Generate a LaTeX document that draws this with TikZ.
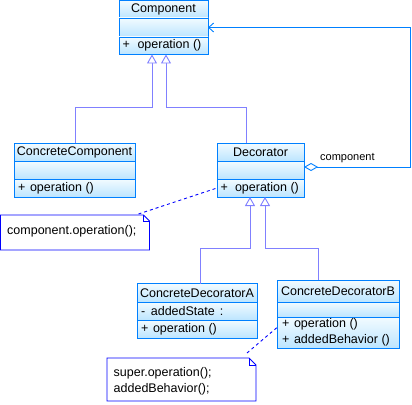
\documentclass[tikz,border=0pt]{standalone}
\usepackage{fontspec}
\setmainfont{Liberation Sans}
\usetikzlibrary{arrows.meta,calc}
\definecolor{clsborder}{RGB}{0,128,255}
\definecolor{clslight}{RGB}{242,251,255}
\definecolor{clsdark}{RGB}{188,229,255}
\definecolor{genline}{RGB}{128,128,255}
\definecolor{notecol}{RGB}{0,0,255}
\tikzset{
  compart/.style={draw=clsborder, line width=0.9pt, top color=clslight, bottom color=clsdark, inner sep=0pt, outer sep=0pt, anchor=north west, rectangle},
  clsname/.style={font=\fontsize{12.5}{15}\selectfont, inner sep=0pt},
  member/.style={font=\fontsize{12.5}{16}\selectfont, inner sep=0pt, anchor=west, align=left, xshift=4pt},
  gen/.style={draw=genline, line width=0.9pt, -{Triangle[open, length=9pt, width=10pt, fill=white]}},
  agg/.style={draw=clsborder, line width=0.9pt, {Diamond[open, length=14pt, width=8pt, fill=white]}-{Straight Barb[length=5pt, width=9pt]}},
  lbl/.style={font=\fontsize{11}{13}\selectfont, inner sep=0pt},
  notebody/.style={inner sep=0pt, outer sep=0pt, anchor=north west, rectangle},
  noteline/.style={draw=notecol, line width=0.9pt},
  notelink/.style={draw=notecol, line width=0.9pt, dash pattern=on 3pt off 3pt},
  notetext/.style={font=\fontsize{12.5}{16}\selectfont, inner sep=0pt, anchor=west, align=left},
}
\newcommand\umlcls[7]{%
  \node[compart, minimum width={#3pt-#2pt}, minimum height={#5pt-#4pt}] (#1-t) at (#2,#4) {};
  \node[compart, minimum width={#3pt-#2pt}, minimum height={#6pt-#5pt}] (#1-a) at (#2,#5) {};
  \node[compart, minimum width={#3pt-#2pt}, minimum height={#7pt-#6pt}] (#1-o) at (#2,#6) {};
}
\begin{document}
\begin{tikzpicture}[x=1pt, y=-1pt]
\useasboundingbox (0,0) rectangle (412,404);
\fill[white] (0,0) rectangle (412,404);

% classes
\umlcls{comp}{119}{208}{0.5}{18}{37}{54.5}
\umlcls{cc}{14}{135}{143}{161}{179}{197}
\umlcls{dec}{217}{304}{143}{161}{179}{197}
\umlcls{A}{137}{257}{283.5}{302}{320}{338}
\umlcls{B}{277}{399}{280}{302}{317}{348}

\node[clsname] (compN) at (comp-t) {Component};
\node[member, xshift=-0.5pt] (compO) at (comp-o.west) {+\hspace{7.5pt}operation ()};
\node[clsname] (ccN) at (cc-t) {ConcreteComponent};
\node[member] (ccO) at (cc-o.west) {+\hspace{4.5pt}operation ()};
\node[clsname] (decN) at (dec-t) {Decorator};
\node[member, xshift=-0.5pt] (decO) at (dec-o.west) {+\hspace{7pt}operation ()};
\node[clsname] (AN) at (A-t) {ConcreteDecoratorA};
\node[member] (AA) at (A-a.west) {-\hspace{5.5pt}addedState\hspace{5pt}:};
\node[member] (AO) at (A-o.west) {+\hspace{4.5pt}operation ()};
\node[clsname] (BN) at (B-t) {ConcreteDecoratorB};
\node[member, xshift=1pt] (BO) at (B-o.west) {+\hspace{4.5pt}operation ()\\+\hspace{4.5pt}addedBehavior ()};

% generalizations
\coordinate (g1) at (75,107);
\coordinate (g2) at (246,107);
\coordinate (h1) at (200,248);
\coordinate (h2) at (318,248);
\coordinate (tip1) at (152,0);
\coordinate (tip2) at (166,0);
\coordinate (tip3) at (250,0);
\coordinate (tip4) at (265,0);
\draw[gen] (cc-t.north -| g1) -- (g1) -| (tip1 |- comp-o.south);
\draw[gen] (dec-t.north -| g2) -- (g2) -| (tip2 |- comp-o.south);
\draw[gen] (A-t.north -| h1) -- (h1) -| (tip3 |- dec-o.south);
\draw[gen] (B-t.north -| h2) -- (h2) -| (tip4 |- dec-o.south);

% aggregation
\coordinate (ag) at (410.5,0);
\draw[agg] ($(dec-a.east)+(0,-3)$) -| (ag |- comp-a.east) -- (comp-a.east);
\node[lbl, anchor=west] (aggL) at (320,158) {component};

% notes
\node[notebody, minimum width=149pt, minimum height=35pt] (n1) at (0.5,215) {};
\draw[noteline] (n1.north west) -- ($(n1.north east)+(-6,0)$) -- ($(n1.north east)+(0,6)$) -- (n1.south east) -- (n1.south west) -- cycle;
\draw[noteline] ($(n1.north east)+(-6,0)$) -- ($(n1.north east)+(-6,6)$) -- ($(n1.north east)+(0,6)$);
\node[notetext] (n1T) at (7,231.5) {component.operation();};

\node[notebody, minimum width=149pt, minimum height=43pt] (n2) at (107,358) {};
\draw[noteline] (n2.north west) -- ($(n2.north east)+(-7,0)$) -- ($(n2.north east)+(0,7)$) -- (n2.south east) -- (n2.south west) -- cycle;
\draw[noteline] ($(n2.north east)+(-7,0)$) -- ($(n2.north east)+(-7,7)$) -- ($(n2.north east)+(0,7)$);
\node[notetext] (n2T) at (113.5,381) {super.operation();\\addedBehavior();};

\draw[notelink] ($(n1.north east)+(-11,-1)$) -- (dec-o.west);
\draw[notelink] ($(n2.north east)+(-9,-5)$) -- ($(B-o.west)+(0,-5)$);
\end{tikzpicture}
\end{document}
